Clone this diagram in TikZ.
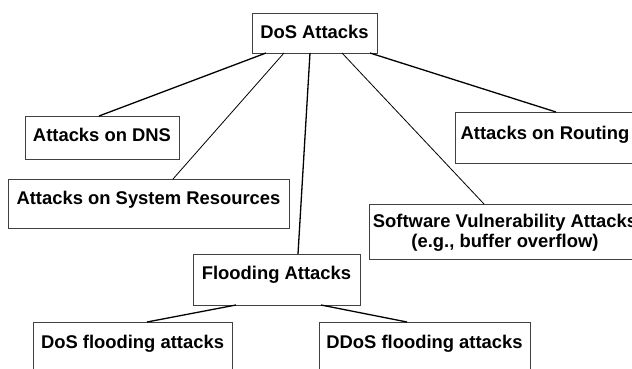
\documentclass[tikz,border=0pt]{standalone}
\usepackage{fontspec}
\setmainfont{Liberation Sans}
\tikzset{
  box/.style={draw=black!75, line width=0.8pt, anchor=north west,
    inner sep=0pt, outer sep=0pt, font=\fontsize{18.4}{20}\selectfont\bfseries},
  link/.style={line width=1.3pt},
  thinlink/.style={line width=0.8pt},
}

\begin{document}
\begin{tikzpicture}[x=1pt,y=-1pt]
    \useasboundingbox[fill=white] (0,0) rectangle (632,369);
    % 顶层
    \node[box, minimum width=125pt, text height=26pt, text depth=14pt] (dos) at (252,13) {DoS Attacks};
    % 第二层
    \node[box, minimum width=154pt, text height=25.6pt, text depth=17.4pt] (dns) at (25,116) {Attacks on DNS};
    \node[box, minimum width=281pt, text height=25.6pt, text depth=23.4pt] (sys) at (8,179) {Attacks on System Resources};
    \node[box, minimum width=180pt, text height=27.6pt, text depth=23.4pt] (routing) at (455,112) {Attacks on Routing};
    \node[box, minimum width=272pt, text height=23.6pt, text depth=31.4pt] (soft) at (369,204)
      {\begin{tabular}[t]{@{}c@{}}Software Vulnerability Attacks\\(e.g., buffer overflow)\end{tabular}};
    \node[box, minimum width=167pt, text height=25.6pt, text depth=25.4pt] (flood) at (193,254) {Flooding Attacks};
    % 第三层
    \node[box, minimum width=199pt, text height=26.6pt, text depth=40pt] (dosflood) at (33,322) {DoS flooding attacks};
    \node[box, minimum width=211pt, text height=26.6pt, text depth=40pt] (ddosflood) at (319,322) {DDoS flooding attacks};
    % 连线
    \draw[link] ([xshift=14pt]dos.south west) -- ([xshift=-3pt]dns.north);
    \draw[thinlink] ([xshift=32pt]dos.south west) -- ([xshift=24.5pt]sys.north);
    \draw[link] ([xshift=-4.5pt]dos.south) -- ([xshift=21.5pt]flood.north);
    \draw[thinlink] ([xshift=27.5pt]dos.south) -- ([xshift=115pt]soft.north west);
    \draw[link] ([xshift=-7pt]dos.south east) -- ([xshift=101pt]routing.north west);
    \draw[link] ([xshift=-40.5pt]flood.south) -- ([xshift=14.5pt]dosflood.north);
    \draw[link] ([xshift=44.5pt]flood.south) -- ([xshift=-17.5pt]ddosflood.north);
\end{tikzpicture}
\end{document}
